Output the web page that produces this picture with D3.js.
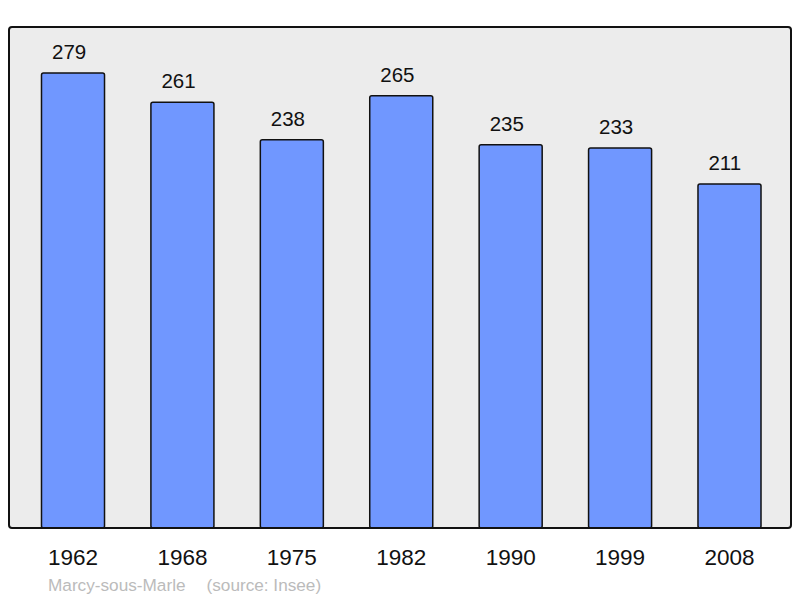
<!DOCTYPE html>
<html><head><meta charset="utf-8">
<script src="https://cdn.jsdelivr.net/npm/d3@7"></script>
<style>body{margin:0;background:#fff}svg{display:block}</style>
</head><body>
<script>
const years = ["1962","1968","1975","1982","1990","1999","2008"];
const population = [279,261,238,265,235,233,211];
const captionPlace = "Marcy-sous-Marle";
const captionSource = "(source: Insee)";

const W = 800, H = 598;
const svg = d3.select("body").append("svg").attr("width", W).attr("height", H);
const font = "'Liberation Sans', Arial, sans-serif";

const plot = {x0: 9, x1: 791, y0: 27, y1: 528};
svg.append("rect").attr("x", plot.x0).attr("y", plot.y0)
  .attr("width", plot.x1 - plot.x0).attr("height", plot.y1 - plot.y0)
  .attr("rx", 3).attr("fill", "#ececec").attr("stroke", "none");

const x = d3.scaleBand().domain(years).range([18.3, 784.2]).paddingInner(0.424).paddingOuter(0.212);
const y = d3.scaleLinear().domain([0, 307.2]).range([plot.y1, plot.y0]);

const data = years.map((yr, i) => ({yr, v: population[i]}));

svg.selectAll("rect.bar").data(data).enter().append("rect").attr("class", "bar")
  .attr("x", d => x(d.yr)).attr("y", d => y(d.v))
  .attr("width", x.bandwidth()).attr("height", d => y(0) - y(d.v))
  .attr("rx", 2).attr("fill", "#7097ff").attr("stroke", "#111").attr("stroke-width", 1.5);

svg.selectAll("text.val").data(data).enter().append("text").attr("class", "val")
  .attr("x", d => x(d.yr) + 10.5).attr("y", d => y(d.v) - 14)
  .attr("text-anchor", "start").attr("font-family", font).attr("font-size", 20.5)
  .attr("fill", "#111").text(d => d.v);

svg.append("rect").attr("x", plot.x0).attr("y", plot.y0)
  .attr("width", plot.x1 - plot.x0).attr("height", plot.y1 - plot.y0)
  .attr("rx", 3).attr("fill", "none").attr("stroke", "#111").attr("stroke-width", 2);

const xAxis = svg.append("g").attr("transform", `translate(0,${plot.y1})`)
  .call(d3.axisBottom(x).tickSize(0).tickPadding(0));
xAxis.select(".domain").remove();
xAxis.selectAll("text").attr("font-family", font).attr("font-size", 22.5)
  .attr("fill", "#111").attr("dy", null).attr("y", 37);

svg.append("text").attr("x", 48).attr("y", 591).attr("font-family", font)
  .attr("font-size", 17.2).attr("fill", "#bbbbbb").text(captionPlace);
svg.append("text").attr("x", 206.5).attr("y", 591).attr("font-family", font)
  .attr("font-size", 17.2).attr("fill", "#bbbbbb").text(captionSource);
</script>
</body></html>
